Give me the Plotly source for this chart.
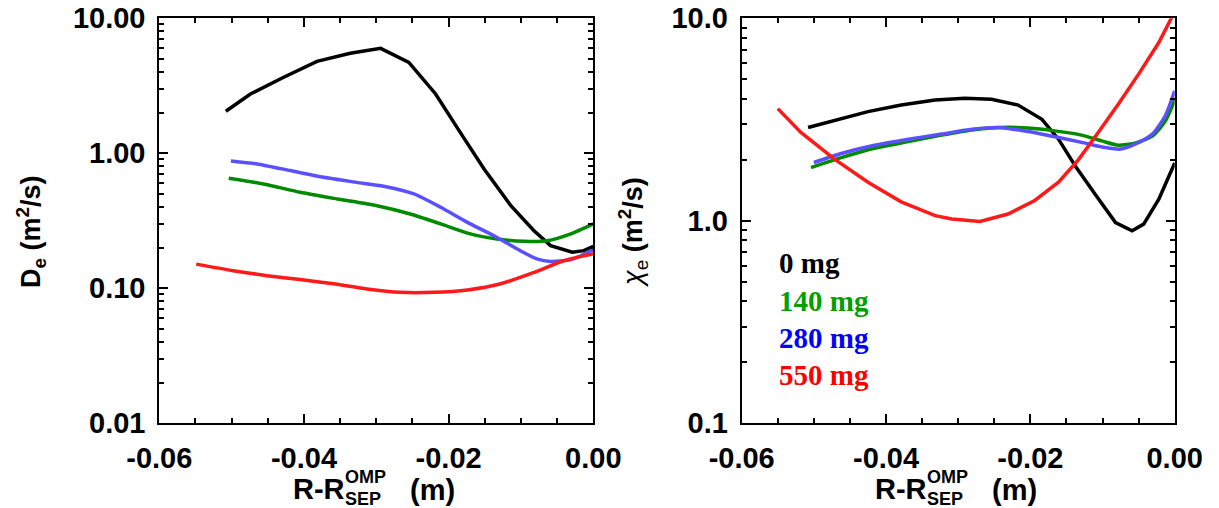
import plotly.graph_objects as go
import numpy as np

# ---------------- data ----------------
# Left panel: D_e (m^2/s)
de_0_x = [-0.0508, -0.0474, -0.0428, -0.0382, -0.0336, -0.0294, -0.0255, -0.0218, -0.0184, -0.0151, -0.0114, -0.0082, -0.0059, -0.0029, -0.0013, 0.0]
de_0_y = [2.05, 2.75, 3.66, 4.80, 5.51, 5.99, 4.72, 2.75, 1.43, 0.765, 0.409, 0.267, 0.207, 0.185, 0.190, 0.205]

de_140_x = [-0.0504, -0.0456, -0.0405, -0.0354, -0.0299, -0.0253, -0.0211, -0.0170, -0.0133, -0.0096, -0.0064, -0.0031, 0.0]
de_140_y = [0.653, 0.593, 0.514, 0.459, 0.409, 0.355, 0.300, 0.253, 0.232, 0.223, 0.225, 0.253, 0.300]

de_280_x = [-0.0501, -0.0465, -0.0419, -0.0373, -0.0327, -0.0290, -0.0248, -0.0211, -0.0174, -0.0138, -0.0101, -0.0078, -0.0059, -0.0031, 0.0]
de_280_y = [0.877, 0.834, 0.745, 0.664, 0.609, 0.570, 0.500, 0.398, 0.308, 0.246, 0.190, 0.165, 0.158, 0.163, 0.193]

de_550_x = [-0.0549, -0.0498, -0.0451, -0.0405, -0.0359, -0.0313, -0.0267, -0.0221, -0.0174, -0.0128, -0.0082, -0.0041, 0.0]
de_550_y = [0.151, 0.135, 0.124, 0.116, 0.108, 0.0989, 0.0933, 0.0933, 0.0972, 0.108, 0.131, 0.160, 0.180]

# Right panel: chi_e (m^2/s)
chi_0_x = [-0.0508, -0.0471, -0.0425, -0.0379, -0.0332, -0.0291, -0.0254, -0.0217, -0.0184, -0.0161, -0.0138, -0.0110, -0.0082, -0.0059, -0.0043, -0.0022, 0.0]
chi_0_y = [2.89, 3.14, 3.46, 3.73, 3.95, 4.03, 3.98, 3.73, 3.17, 2.53, 1.87, 1.35, 0.98, 0.893, 0.963, 1.28, 1.93]

chi_140_x = [-0.0504, -0.0462, -0.0416, -0.0369, -0.0323, -0.0281, -0.0240, -0.0203, -0.0166, -0.0129, -0.0101, -0.0078, -0.0055, -0.0031, -0.0013, 0.0]
chi_140_y = [1.83, 2.05, 2.28, 2.46, 2.65, 2.81, 2.89, 2.87, 2.78, 2.65, 2.48, 2.36, 2.42, 2.62, 3.11, 3.95]

chi_280_x = [-0.0500, -0.0462, -0.0416, -0.0369, -0.0323, -0.0281, -0.0244, -0.0203, -0.0166, -0.0129, -0.0096, -0.0075, -0.0055, -0.0031, -0.0013, 0.0]
chi_280_y = [1.94, 2.15, 2.36, 2.53, 2.68, 2.83, 2.89, 2.76, 2.60, 2.44, 2.30, 2.26, 2.39, 2.68, 3.30, 4.38]

chi_550_x = [-0.0550, -0.0518, -0.0471, -0.0425, -0.0379, -0.0332, -0.0309, -0.0270, -0.0231, -0.0194, -0.0161, -0.0133, -0.0106, -0.0078, -0.0050, -0.0022, 0.0]
chi_550_y = [3.58, 2.73, 2.01, 1.55, 1.24, 1.06, 1.02, 0.993, 1.08, 1.26, 1.55, 2.01, 2.73, 3.77, 5.30, 7.59, 10.8]

series_labels = ["0 mg", "140 mg", "280 mg", "550 mg"]

x_tickvals = [-0.06, -0.04, -0.02, 0.0]
x_ticktext = ["-0.06", "-0.04", "-0.02", "0.00"]
yl_tickvals = [0.01, 0.1, 1, 10]
yl_ticktext = ["0.01", "0.10", "1.00", "10.00"]
yr_tickvals = [0.1, 1, 10]
yr_ticktext = ["0.1", "1.0", "10.0"]

# ---------------- style ----------------
W, H = 1219, 508
line_colors = ["#000000", "#008a00", "#5a50ff", "#ff1a1a"]
text_colors = ["#000000", "#00a000", "#0000ff", "#ff0000"]
left_shapes = ["linear", "spline", "spline", "spline"]
right_shapes = ["linear", "spline", "spline", "linear"]
SANS = "Liberation Sans, Arial, sans-serif"
SERIF = "Liberation Serif, Times New Roman, serif"

def px2x(px):
    return px / W

def px2y(py):
    return 1 - py / H

L_dom = [px2x(159.3), px2x(593.3)]
R_dom = [px2x(741.7), px2x(1174.7)]
Y_dom = [px2y(423.3), px2y(18.3)]

fig = go.Figure()
left = [(de_0_x, de_0_y), (de_140_x, de_140_y), (de_280_x, de_280_y), (de_550_x, de_550_y)]
right = [(chi_0_x, chi_0_y), (chi_140_x, chi_140_y), (chi_280_x, chi_280_y), (chi_550_x, chi_550_y)]
for i, (xs, ys) in enumerate(left):
    fig.add_trace(go.Scatter(x=xs, y=ys, mode="lines",
                             line=dict(color=line_colors[i], width=3.5, shape=left_shapes[i], smoothing=0.6),
                             name=series_labels[i], showlegend=False, xaxis="x", yaxis="y"))
for i, (xs, ys) in enumerate(right):
    fig.add_trace(go.Scatter(x=xs, y=ys, mode="lines",
                             line=dict(color=line_colors[i], width=3.5, shape=right_shapes[i], smoothing=0.6),
                             name=series_labels[i], showlegend=False, xaxis="x2", yaxis="y2"))

def minor_log(lo, hi):
    vals = []
    for d in range(lo, hi):
        for m in range(2, 10):
            vals.append(m * 10.0 ** d)
    return vals

tickfont = dict(family=SANS, size=29, color="black", weight="bold")
common_x = dict(range=[-0.06, 0.0], tickmode="array", tickvals=x_tickvals, ticktext=x_ticktext,
                ticks="inside", ticklen=9, tickwidth=1.5, tickcolor="black", automargin=False,
                showline=True, linecolor="black", linewidth=2, mirror="ticks",
                showgrid=False, zeroline=False, tickfont=tickfont, ticklabelstandoff=8,
                minor=dict(tickmode="array", tickvals=[-0.055, -0.05, -0.045, -0.035, -0.03, -0.025, -0.015, -0.01, -0.005],
                           ticks="inside", ticklen=5, tickwidth=1.5, tickcolor="black", showgrid=False))
common_y = dict(type="log", ticks="inside", ticklen=9, tickwidth=1.5, tickcolor="black", automargin=False,
                showline=True, linecolor="black", linewidth=2, mirror="ticks",
                showgrid=False, zeroline=False, tickfont=tickfont, tickmode="array", ticklabelstandoff=6)

fig.update_layout(
    width=W, height=H, margin=dict(l=0, r=0, t=0, b=0, autoexpand=False),
    paper_bgcolor="white", plot_bgcolor="white", showlegend=False,
    xaxis=dict(domain=L_dom, anchor="y", **common_x),
    xaxis2=dict(domain=R_dom, anchor="y2", **common_x),
    yaxis=dict(domain=Y_dom, anchor="x", range=[-2, 1], tickvals=yl_tickvals, ticktext=yl_ticktext,
               minor=dict(tickmode="array", tickvals=minor_log(-2, 1), ticks="inside", ticklen=5, tickwidth=1.5,
                          tickcolor="black", showgrid=False), **common_y),
    yaxis2=dict(domain=Y_dom, anchor="x2", range=[-1, 1], tickvals=yr_tickvals, ticktext=yr_ticktext,
                minor=dict(tickmode="array", tickvals=minor_log(-1, 1), ticks="inside", ticklen=5, tickwidth=1.5,
                           tickcolor="black", showgrid=False), **common_y),
)

ann = []
# y-axis titles
ann.append(dict(text="<b>D<sub>e</sub> (m<sup>2</sup>/s)</b>", x=px2x(31), y=px2y(232), xref="paper", yref="paper",
                textangle=-90, showarrow=False, xanchor="center", yanchor="middle",
                font=dict(family=SANS, size=27, color="black")))
ann.append(dict(text="<i>χ</i><sub>e</sub> <b>(m<sup>2</sup>/s)</b>", x=px2x(633), y=px2y(232), xref="paper", yref="paper",
                textangle=-90, showarrow=False, xanchor="center", yanchor="middle",
                font=dict(family=SANS, size=27, color="black")))

# x-axis titles (stacked sub/superscript)
for off in [0, 582.4]:
    ann.append(dict(text="<b>R-R</b>", x=px2x(347 + off), y=px2y(489), xref="paper", yref="paper",
                    showarrow=False, xanchor="right", yanchor="middle", font=dict(family=SANS, size=29, color="black")))
    ann.append(dict(text="<b>OMP</b>", x=px2x(343 + off), y=px2y(477), xref="paper", yref="paper",
                    showarrow=False, xanchor="left", yanchor="middle", font=dict(family=SANS, size=18, color="black")))
    ann.append(dict(text="<b>SEP</b>", x=px2x(343 + off), y=px2y(499), xref="paper", yref="paper",
                    showarrow=False, xanchor="left", yanchor="middle", font=dict(family=SANS, size=18, color="black")))
    ann.append(dict(text="<b>(m)</b>", x=px2x(408 + off), y=px2y(490), xref="paper", yref="paper",
                    showarrow=False, xanchor="left", yanchor="middle", font=dict(family=SANS, size=29, color="black")))

# labels in right panel
label_y = [263, 301, 338, 375]
for i, lab in enumerate(series_labels):
    ann.append(dict(text="<b>" + lab + "</b>", x=px2x(777), y=px2y(label_y[i]), xref="paper", yref="paper",
                    showarrow=False, xanchor="left", yanchor="middle",
                    font=dict(family=SERIF, size=29, color=text_colors[i])))

fig.update_layout(annotations=ann)
fig.write_html("out.html")
